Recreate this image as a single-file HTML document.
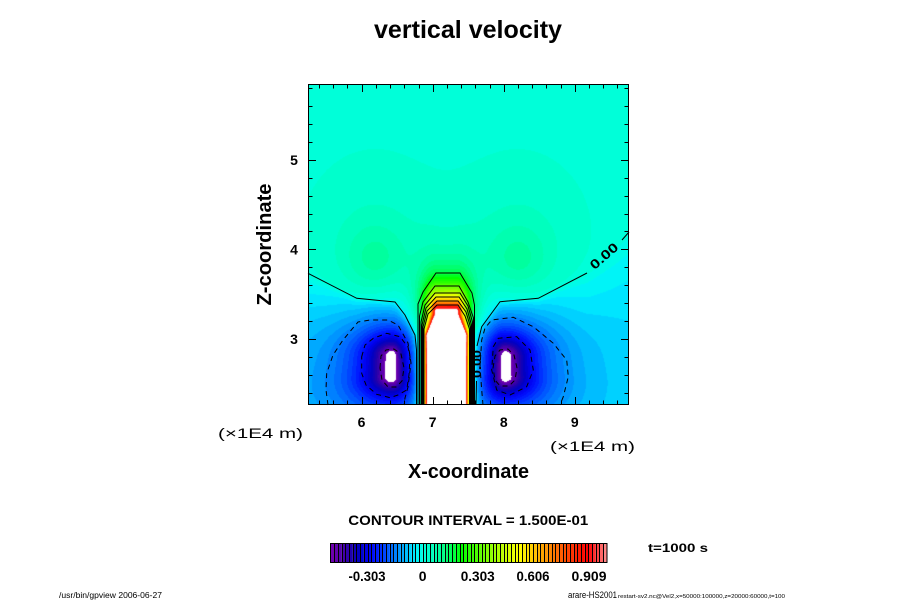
<!DOCTYPE html>
<html><head><meta charset="utf-8"><title>vertical velocity</title>
<style>
html,body{margin:0;padding:0;background:#fff;width:900px;height:600px;overflow:hidden}
#w{position:relative;width:900px;height:600px;background:#fff}
#c{position:absolute;left:308px;top:84px;width:321px;height:321px;background:#00fad8}
#s{position:absolute;left:0;top:0}
text{font-family:"Liberation Sans",Arial,Helvetica,sans-serif;fill:#000}
.b{font-weight:bold}
</style></head><body><div id="w">
<canvas id="c" width="321" height="321"></canvas>
<svg id="s" width="900" height="600" viewBox="0 0 900 600">
<g id="cb"></g>
<rect x="330.5" y="543.5" width="276.5" height="19" fill="none" stroke="#000" stroke-width="1"/>
<g fill="none" stroke="#000" stroke-width="1">
 <path d="M308,273.3 L356.7,298.3 L395,302 L405,315 L415,335 L416.5,350 L416.5,405"/>
 <path d="M629,232 L622,240 M587,273 L538.3,298.3 L500,301.7 L481.7,326.7 L477,346 M476.5,381 L476,405"/>
 <path d="M418,405 L418,304 L423,292 L436,273 L460,273 L472,293 L474.5,305 L474.5,405"/>
 <path d="M419.5,405 L419.5,316 L423,302 L435,286 L459,286 L468,302 L473.5,318 L473.5,405"/>
 <path d="M421,405 L421,322 L425,305 L435,293 L460,293 L468,306 L472.5,322 L472.5,405"/>
 <path d="M422,405 L422,325 L426,308 L436,297 L459,297 L467,309 L471.5,325 L471.5,405"/>
 <path d="M423,405 L423,327 L427,311 L437,301 L458,301 L466,312 L470.5,327 L470.5,405"/>
 <path d="M424,405 L424,329 L428,314 L437,305 L458,305 L465,316 L469.5,329 L469.5,405"/>
 <g stroke-dasharray="5,4">
  <path d="M328,405 L326,390 L326.7,373.3 L333,355 L343,340 L358,322 L370,320 L388,320 L398,325 L408,343 L411,363 L408,387 L405,398 L404,405"/>
  <path d="M361.7,356.7 L365,345 L373.3,338.3 L386.7,333.3 L400,336.7 L408,347 L410,356.7 L409,375 L406.7,390 L398,395 L390,397.7 L376.7,394.3 L366,385 L361.7,373.3 Z"/>
  <path d="M380,368 L381,356 L386,350 L394,349 L401,354 L404,368 L402,381 L396,387 L388,387 L382,380 Z"/>
  <path d="M483,405 L481.7,390 L480,366.7 L481.7,340 L485,328 L491.7,320 L513.3,317.3 L533.3,326.7 L553.3,343.3 L566.7,360 L568.3,376.7 L563.3,396.7 L560,405"/>
  <path d="M493.3,346.7 L498.3,338.3 L516.7,336.7 L530,350 L533.3,370 L526.7,386.7 L510,395 L496.7,390 L491.7,370 Z"/>
  <path d="M493,368 L495,356 L500,350 L508,349 L514,355 L517,368 L515,380 L509,386 L500,386 L495,380 Z"/>
 </g>
 <path id="ticks" d=""/>
 <rect x="308.5" y="84.5" width="320" height="320"/>
</g>
<text class="b" font-size="13" text-anchor="middle" textLength="33" lengthAdjust="spacingAndGlyphs" transform="translate(604,256) rotate(-41)" x="0" y="4.5">0.00</text>
<text class="b" font-size="12" text-anchor="middle" textLength="28" lengthAdjust="spacingAndGlyphs" transform="translate(476.7,364) rotate(-90)" x="0" y="4.3">0.00</text>

<text class="b" x="468" y="38" font-size="25" text-anchor="middle" textLength="188" lengthAdjust="spacingAndGlyphs">vertical velocity</text>

<text class="b" x="361.5" y="427" font-size="14" text-anchor="middle">6</text>
<text class="b" x="432.7" y="427" font-size="14" text-anchor="middle">7</text>
<text class="b" x="503.8" y="427" font-size="14" text-anchor="middle">8</text>
<text class="b" x="574.8" y="427" font-size="14" text-anchor="middle">9</text>
<text class="b" x="294" y="165" font-size="14" text-anchor="middle">5</text>
<text class="b" x="294" y="254.4" font-size="14" text-anchor="middle">4</text>
<text class="b" x="294" y="344" font-size="14" text-anchor="middle">3</text>

<text x="218" y="438" font-size="14" textLength="85" lengthAdjust="spacingAndGlyphs">(×1E4 m)</text>
<text x="550" y="451" font-size="14" textLength="85" lengthAdjust="spacingAndGlyphs">(×1E4 m)</text>

<text class="b" x="468.5" y="478" font-size="20" text-anchor="middle" textLength="121" lengthAdjust="spacingAndGlyphs">X-coordinate</text>
<text class="b" font-size="20" text-anchor="middle" textLength="122" lengthAdjust="spacingAndGlyphs" transform="translate(271,244.5) rotate(-90)" x="0" y="0">Z-coordinate</text>

<text class="b" x="468.3" y="525" font-size="14" text-anchor="middle" textLength="240" lengthAdjust="spacingAndGlyphs">CONTOUR INTERVAL = 1.500E-01</text>
<text class="b" x="678" y="552" font-size="12" text-anchor="middle" textLength="60" lengthAdjust="spacingAndGlyphs">t=1000 s</text>

<text class="b" x="367" y="581" font-size="14" text-anchor="middle" textLength="37" lengthAdjust="spacingAndGlyphs">-0.303</text>
<text class="b" x="422.7" y="581" font-size="14" text-anchor="middle">0</text>
<text class="b" x="477.7" y="581" font-size="14" text-anchor="middle" textLength="34" lengthAdjust="spacingAndGlyphs">0.303</text>
<text class="b" x="533" y="581" font-size="14" text-anchor="middle" textLength="33" lengthAdjust="spacingAndGlyphs">0.606</text>
<text class="b" x="589" y="581" font-size="14" text-anchor="middle" textLength="35" lengthAdjust="spacingAndGlyphs">0.909</text>

<text x="59" y="598" font-size="8" textLength="103" lengthAdjust="spacingAndGlyphs">/usr/bin/gpview 2006-06-27</text>
<text x="568" y="598" font-size="9" textLength="49" lengthAdjust="spacingAndGlyphs">arare-HS2001</text>
<text x="618" y="598" font-size="5" textLength="167" lengthAdjust="spacingAndGlyphs">restart-sv2.nc@Vel2,x=50000:100000,z=20000:60000,t=100</text>
</svg>
</div>
<script>
(function(){
var cps=[[-0.505,115,0,175],[-0.45,80,0,170],[-0.40,35,0,170],[-0.35,0,0,195],[-0.30,0,0,240],[-0.26,0,20,255],[-0.20,0,80,255],[-0.12,0,160,255],[-0.04,0,240,255],[0,0,255,224],[0.08,0,255,170],[0.16,0,255,80],[0.21,0,255,0],[0.32,100,255,0],[0.45,200,255,0],[0.53,255,255,0],[0.62,255,190,0],[0.72,255,120,0],[0.82,255,50,0],[0.90,255,0,0],[0.96,255,70,70],[1.01,255,150,150]];
function cmap(v){
  if(v<=cps[0][0]) return cps[0].slice(1);
  for(var i=1;i<cps.length;i++){ if(v<=cps[i][0]){ var a=cps[i-1],b=cps[i]; var t=(v-a[0])/(b[0]-a[0]); return [a[1]+t*(b[1]-a[1]),a[2]+t*(b[2]-a[2]),a[3]+t*(b[3]-a[3])]; } }
  return cps[cps.length-1].slice(1);
}
var V0=-0.505,STEP=0.0202,N=75,lev=[];
for(var k=0;k<N;k++){lev.push(cmap(V0+(k+0.5)*STEP).map(Math.round));}
var zp=[[280,258],[308,273.3],[356.7,298.3],[395,302],[405,315],[415,335],[448,338],[481.7,326.7],[500,301.7],[538.3,298.3],[587,273],[629,232],[660,200]];
function z0(x){
  if(x<=zp[0][0]) return zp[0][1];
  for(var i=1;i<zp.length;i++){ if(x<=zp[i][0]){ var a=zp[i-1],b=zp[i]; var t=(x-a[0])/(b[0]-a[0]); return a[1]+t*(b[1]-a[1]); } }
  return zp[zp.length-1][1];
}
function sq(a){return a*a;}
function vort(x,y,cx,sl,sr){
  var dx=x-cx, sx=dx<0?sl:sr, dy=0;
  if(y<356) dy=(356-y)/27; else if(y>377) dy=(y-377)/23;
  var r=Math.sqrt(sq(dx/sx)+dy*dy);
  return -0.55*Math.exp(-r);
}
function field(x,y){
  var z=z0(x), d=y-z;
  var ax=0.085+(x-308)/(629-308)*(0.06-0.085);
  var lob=0.05*Math.exp(-sq((x-375)/30)-sq((y-262)/35))+0.04*Math.exp(-sq((x-375)/60)-sq((y-262)/80))
         +0.05*Math.exp(-sq((x-518)/30)-sq((y-262)/35))+0.04*Math.exp(-sq((x-518)/60)-sq((y-262)/80));
  var bg;
  if(d<0) bg=0.015+lob; else bg=-ax*Math.tanh(d/70)+(0.015+lob)*Math.exp(-d/4);
  var hw=19.5-0.45*Math.max(0,335-y); if(hw<10) hw=10;
  var lx=(28-hw)/2.08;
  var ex=Math.max(0,Math.abs(x-446.5)-hw)/lx, ey=Math.max(0,312.5-y)/19;
  var U=1.2*Math.exp(-Math.sqrt(ex*ex+ey*ey));
  return bg+U+vort(x,y,392,32,19.5)+vort(x,y,505,19.5,32);
}
var cv=document.getElementById('c');
if(cv&&cv.getContext){
  var ctx=cv.getContext('2d'),W=321,H=321,img=ctx.createImageData(W,H),p=img.data;
  for(var j=0;j<H;j++){for(var i=0;i<W;i++){
    var v=field(308+i+0.5,84+j+0.5), kk=Math.floor((v-V0)/STEP), c=(kk<0||kk>=N)?[255,255,255]:lev[kk], o=(j*W+i)*4;
    p[o]=c[0];p[o+1]=c[1];p[o+2]=c[2];p[o+3]=255;
  }}
  ctx.putImageData(img,0,0);
}
var h='';
for(var k2=0;k2<N;k2++){var x0=330.7+k2*3.68,c2=lev[k2];h+='<rect x="'+x0.toFixed(2)+'" y="543" width="3.75" height="19.5" fill="rgb('+c2.join(',')+')"/>';}
for(var k3=1;k3<N;k3++){var x1=Math.round(330.7+k3*3.68)+0.5;h+='<line x1="'+x1+'" y1="543" x2="'+x1+'" y2="562" stroke="#000" stroke-width="1"/>';}
document.getElementById('cb').innerHTML=h;
var t='';
for(var a=27;a<=48;a++){var xx=Math.round(361.7+(a/5-6)*71.05)+0.5,len=(a%5==0)?8:4.5;t+='M'+xx+',405V'+(405-len)+'M'+xx+',84V'+(84+len);}
for(var b=12;b<=29;b++){var yy=Math.round(249.4-(b/5-4)*89.6)+0.5,len2=(b%5==0)?8:4.5;t+='M308,'+yy+'H'+(308+len2)+'M629,'+yy+'H'+(629-len2);}
document.getElementById('ticks').setAttribute('d',t);
})();
</script>
</body></html>
